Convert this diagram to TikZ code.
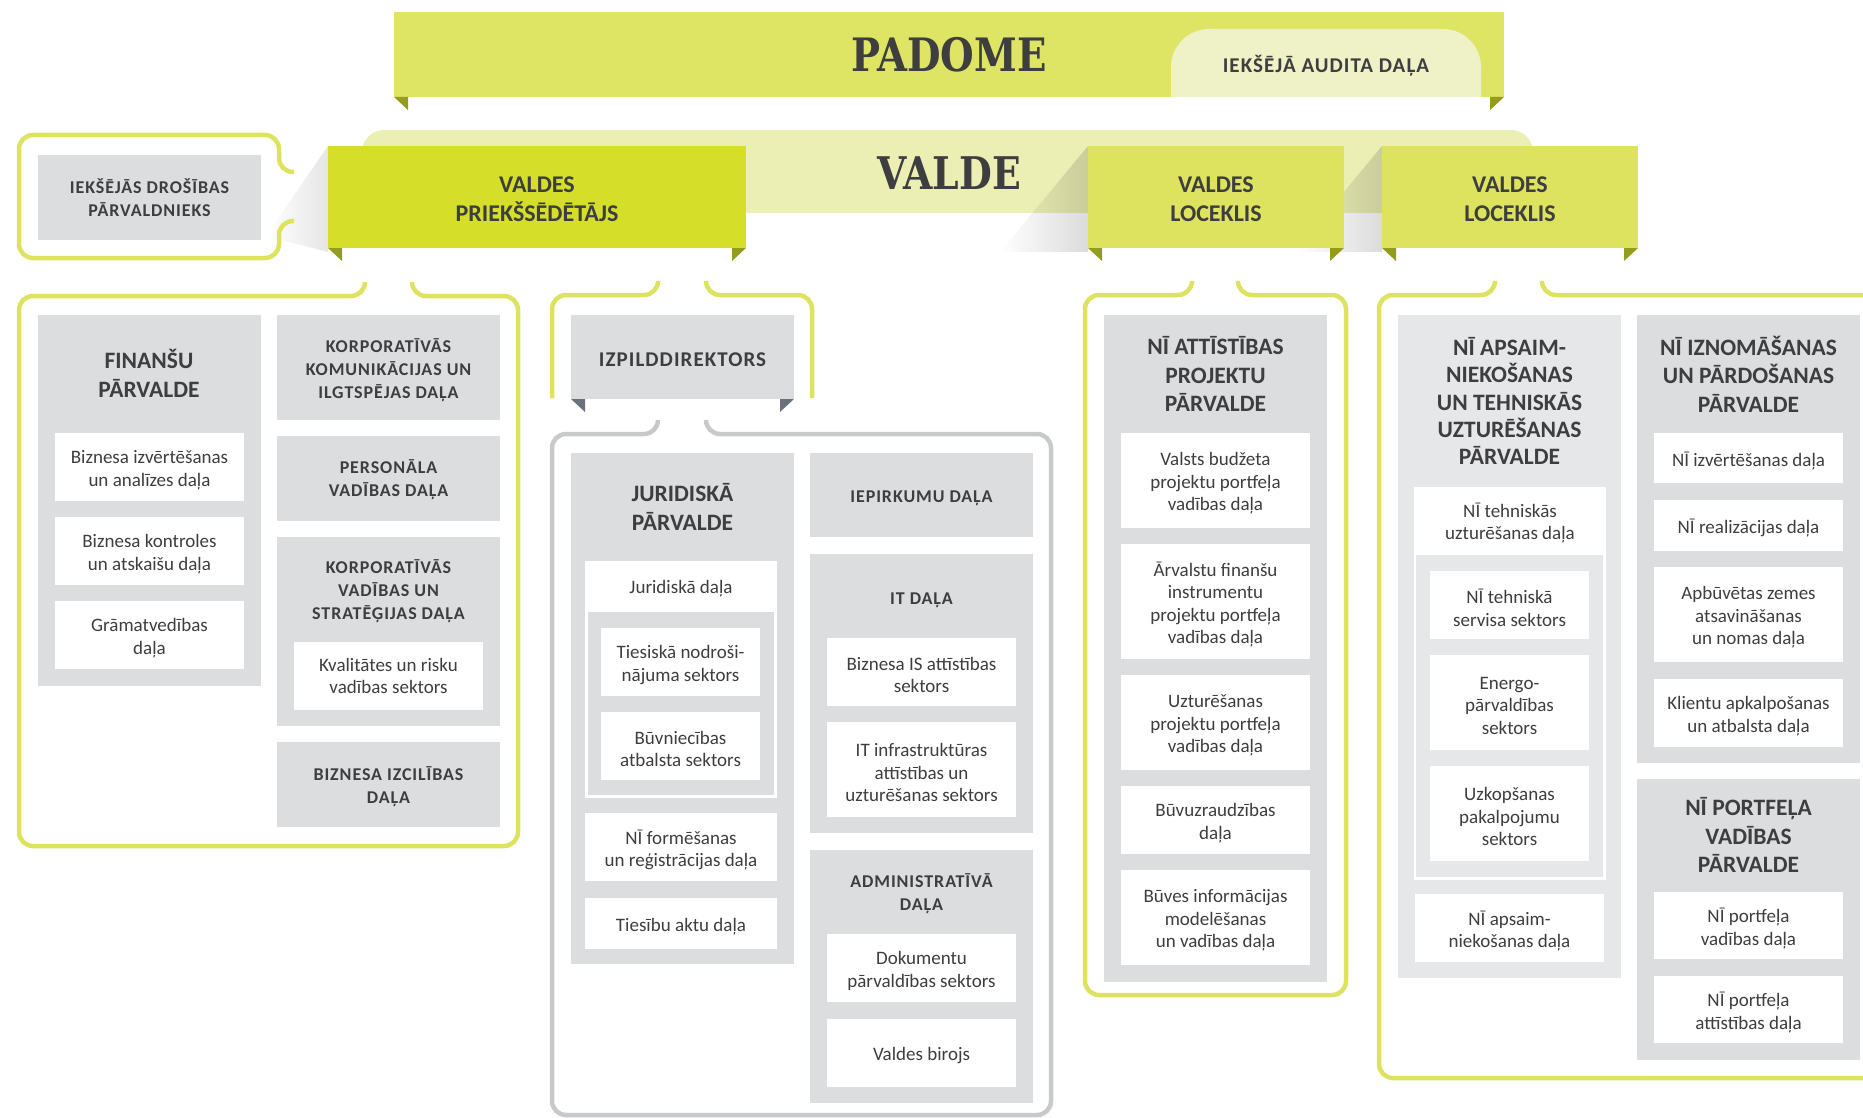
\documentclass[tikz,border=0pt]{standalone}
\usepackage{fontspec}
\usepackage{graphicx}
\setmainfont{Carlito}
\newfontfamily\spacedfont[LetterSpace=5]{Carlito}
\newfontfamily\slabfont{DejaVu Serif}
\usetikzlibrary{fadings}

\definecolor{txt}{HTML}{3E3E40}
\definecolor{padc}{HTML}{DEE463}
\definecolor{tabc}{HTML}{EEF2C6}
\definecolor{valc}{HTML}{EBEFB4}
\definecolor{chairc}{HTML}{D5DF2A}
\definecolor{lockc}{HTML}{DDE35F}
\definecolor{foldc}{HTML}{939C1C}
\definecolor{gry}{HTML}{DCDDDF}
\definecolor{gryb}{HTML}{E6E7E8}
\definecolor{frm}{HTML}{DEE35F}
\definecolor{frmg}{HTML}{C8C9CB}
\definecolor{foldg}{HTML}{6C707A}

\tikzfading[name=shfade, left color=transparent!100, right color=transparent!86]
\tikzfading[name=shfadeb, left color=transparent!100, right color=transparent!90]

\newcommand\fBody{\fontsize{19}{22.5}\selectfont}
\newcommand\fHead{\fontsize{23.5}{28.5}\selectfont\bfseries}
\newcommand\fHeadN{\fontsize{23.5}{27.3}\selectfont\bfseries}
\newcommand\fSmall{\spacedfont\fontsize{18}{23}\selectfont\bfseries}
\newcommand\fGreen{\fontsize{24}{29}\selectfont\bfseries}
\newcommand\fIzp{\spacedfont\fontsize{21}{25}\selectfont\bfseries}

\tikzset{
  box/.style={inner sep=0pt, outer sep=0pt, align=center, text=txt},
  whitebox/.style={box, fill=white, font=\fBody},
  graybox/.style={box, fill=gry, font=\fSmall},
  graybbox/.style={box, fill=gryb, font=\fSmall},
  greenbox/.style={box, fill=lockc, font=\fGreen},
  headtxt/.style={box, font=\fHead},
  smalltxt/.style={box, font=\fSmall},
  gframe/.style={draw=frm, line width=4.5pt, rounded corners=14pt},
  grframe/.style={draw=frmg, line width=4.5pt, rounded corners=14pt},
}

% text shift (down) of the text in a box
\def\BXshift{3pt}
% #1 style, #2 x1, #3 y1, #4 x2, #5 y2, #6 name, #7 text
\newcommand\BX[7]{%
  \node[#1, anchor=north west, minimum width={(#4-#2)*1pt}, minimum height={(#5-#3)*1pt}] (#6) at (#2,#3) {};
  \node[#1, fill=none] (#6-t) at ([yshift=-\BXshift]#6.center) {#7};}
\newcommand\foldL[3]{\fill[#3] (#1,#2) -- ++(14,0) -- ++(0,13) -- cycle;}
\newcommand\foldR[3]{\fill[#3] (#1,#2) -- ++(-14,0) -- ++(0,13) -- cycle;}

\begin{document}
\begin{tikzpicture}[x=1pt,y=-1pt]
\useasboundingbox (0,0) rectangle (1863,1118);

% ---------- PADOME ----------
\fill[padc] (394,12) rectangle (1504,97);
\foldL{394}{97}{foldc}
\foldR{1504}{97}{foldc}
\fill[tabc] (1171,97) -- (1171,67) arc[start angle=180,end angle=270,radius=38] -- (1443,29) arc[start angle=270,end angle=360,radius=38] -- (1481,97) -- cycle;
\node[box, font=\slabfont\bfseries\fontsize{46}{46}\selectfont] (padome) at (949,55) {\scalebox{0.84}[1]{PADOME}};
\node[box, font=\spacedfont\fontsize{21}{24}\selectfont\bfseries] (audit) at (1326,66) {IEKŠĒJĀ AUDITA DAĻA};

% ---------- VALDE ----------
\fill[valc] (362,213) -- (362,152) arc[start angle=180,end angle=270,radius=22] -- (1511,130) arc[start angle=270,end angle=360,radius=22] -- (1533,213) -- cycle;
\node[box, font=\slabfont\bfseries\fontsize{45}{45}\selectfont] (valde) at (949,173) {\scalebox{0.84}[1]{VALDE}};

% shadows
\fill[black, path fading=shfadeb] (328,146) -- (266,236) -- (328,252) -- cycle;
\fill[black, path fading=shfade] (1088,146) -- (1000,252) -- (1088,252) -- cycle;
\fill[black, path fading=shfade] (1382,146) -- (1294,252) -- (1382,252) -- cycle;

\def\BXshift{2.5pt}
\BX{greenbox, fill=chairc}{328}{146}{746}{248}{chair}{VALDES\\PRIEKŠSĒDĒTĀJS}
\foldL{328}{248}{foldc}
\foldR{746}{248}{foldc}
\BX{greenbox}{1088}{146}{1344}{248}{lock1}{VALDES\\LOCEKLIS}
\foldL{1088}{248}{foldc}
\foldR{1344}{248}{foldc}
\BX{greenbox}{1382}{146}{1638}{248}{lock2}{VALDES\\LOCEKLIS}
\foldL{1382}{248}{foldc}
\foldR{1638}{248}{foldc}

% ---------- Iekšējās drošības ----------
\draw[gframe] (294,172) -- (279,172) -- (279,135) -- (19,135) -- (19,258) -- (279,258) -- (279,221) -- (294,221);
\def\BXshift{0pt}
\BX{graybox}{38}{155}{261}{240}{drosiba}{IEKŠĒJĀS DROŠĪBAS\\PĀRVALDNIEKS}

% ---------- Frame A ----------
\draw[gframe] (365,282) -- (365,296) -- (19,296) -- (19,846) -- (518,846) -- (518,296) -- (412,296) -- (412,282);
\BX{graybox}{38}{315}{261}{686}{fin}{}
\node[headtxt] (fin-t) at (149,373.5) {FINANŠU\\PĀRVALDE};
\def\BXshift{3pt}
\BX{whitebox}{55}{433}{244}{501}{fin1}{Biznesa izvērtēšanas\\un analīzes daļa}
\BX{whitebox}{55}{517}{244}{585}{fin2}{Biznesa kontroles\\un atskaišu daļa}
\BX{whitebox}{55}{601}{244}{669}{fin3}{Grāmatvedības\\daļa}
\def\BXshift{3pt}
\BX{graybox}{277}{315}{500}{420}{kom}{KORPORATĪVĀS\\KOMUNIKĀCIJAS UN\\ILGTSPĒJAS DAĻA}
\def\BXshift{1.5pt}
\BX{graybox}{277}{436}{500}{521}{pers}{PERSONĀLA\\VADĪBAS DAĻA}
\BX{graybox}{277}{537}{500}{726}{kvs}{}
\node[smalltxt] (kvs-t) at (388.5,591) {KORPORATĪVĀS\\VADĪBAS UN\\STRATĒĢIJAS DAĻA};
\def\BXshift{0pt}
\BX{whitebox}{294}{642}{483}{710}{kvs1}{Kvalitātes un risku\\vadības sektors}
\def\BXshift{2.5pt}
\BX{graybox}{277}{742}{500}{827}{izc}{BIZNESA IZCILĪBAS\\DAĻA}

% ---------- Frame B : Izpilddirektors ----------
\draw[gframe] (658,282) -- (658,295) -- (552,295) -- (552,398);
\draw[gframe] (706,282) -- (706,295) -- (812,295) -- (812,398);
\BX{graybox, font=\fIzp}{571}{315}{794}{399}{izp}{IZPILDDIREKTORS}
\foldL{571}{399}{foldg}
\foldR{794}{399}{foldg}

% ---------- Frame C ----------
\draw[grframe] (658,420) -- (658,434) -- (552,434) -- (552,1115) -- (1051,1115) -- (1051,434) -- (706,434) -- (706,420);
\BX{graybox}{571}{453}{794}{964}{jur}{}
\node[headtxt] (jur-t) at (682.5,507) {JURIDISKĀ\\PĀRVALDE};
\BX{whitebox}{585}{561}{777}{798}{jurd}{}
\node[box, font=\fBody] (jurd-t) at (681,589) {Juridiskā daļa};
\BX{box, fill=gry}{588}{612}{774}{795}{jurin}{}
\def\BXshift{3pt}
\BX{whitebox}{601}{628}{760}{696}{tns}{Tiesiskā nodroši-\\nājuma sektors}
\BX{whitebox}{601}{712}{760}{780}{bas}{Būvniecības\\atbalsta sektors}
\BX{whitebox}{585}{813}{777}{881}{nif}{NĪ formēšanas\\un reģistrācijas daļa}
\BX{whitebox}{585}{898}{777}{949}{tad}{Tiesību aktu daļa}
\BX{graybox}{810}{453}{1033}{537}{iep}{IEPIRKUMU DAĻA}
\BX{graybox}{810}{554}{1033}{833}{it}{}
\node[smalltxt] (it-t) at (921.5,600.5) {IT DAĻA};
\BX{whitebox}{827}{638}{1016}{706}{it1}{Biznesa IS attīstības\\sektors}
\BX{whitebox}{827}{722}{1016}{817}{it2}{IT infrastruktūras\\attīstības un\\uzturēšanas sektors}
\BX{graybox}{810}{850}{1033}{1103}{adm}{}
\node[smalltxt] (adm-t) at (921.5,894) {ADMINISTRATĪVĀ\\DAĻA};
\BX{whitebox}{827}{934}{1016}{1002}{adm1}{Dokumentu\\pārvaldības sektors}
\BX{whitebox}{827}{1019}{1016}{1087}{adm2}{Valdes birojs}

% ---------- Frame D ----------
\draw[gframe] (1192,282) -- (1192,295) -- (1085,295) -- (1085,995) -- (1346,995) -- (1346,295) -- (1238,295) -- (1238,282);
\BX{graybox}{1104}{315}{1327}{982}{nia}{}
\node[headtxt] (nia-t) at (1215.5,374) {NĪ ATTĪSTĪBAS\\PROJEKTU\\PĀRVALDE};
\BX{whitebox}{1121}{433}{1310}{528}{nia1}{Valsts budžeta\\projektu portfeļa\\vadības daļa}
\BX{whitebox}{1121}{544}{1310}{659}{nia2}{Ārvalstu finanšu\\instrumentu\\projektu portfeļa\\vadības daļa}
\BX{whitebox}{1121}{675}{1310}{770}{nia3}{Uzturēšanas\\projektu portfeļa\\vadības daļa}
\BX{whitebox}{1121}{786}{1310}{854}{nia4}{Būvuzraudzības\\daļa}
\BX{whitebox}{1121}{870}{1310}{965}{nia5}{Būves informācijas\\modelēšanas\\un vadības daļa}

% ---------- Frame E ----------
\draw[gframe] (1495,282) -- (1495,295) -- (1379,295) -- (1379,1078) -- (1900,1078);
\draw[gframe] (1542,282) -- (1542,295) -- (1900,295);
\BX{graybbox}{1398}{315}{1621}{978}{nap}{}
\node[box, font=\fHeadN] (nap-t) at (1509.5,401) {NĪ APSAIM-\\NIEKOŠANAS\\UN TEHNISKĀS\\UZTURĒŠANAS\\PĀRVALDE};
\BX{whitebox}{1414}{487}{1606}{880}{ntu}{}
\node[box, font=\fBody] (ntu-t) at (1510,523) {NĪ tehniskās\\uzturēšanas daļa};
\BX{box, fill=gryb}{1416}{555}{1603}{877}{ntuin}{}
\BX{whitebox}{1430}{571}{1589}{639}{nts}{NĪ tehniskā\\servisa sektors}
\BX{whitebox}{1430}{655}{1589}{750}{eps}{Energo-\\pārvaldības\\sektors}
\BX{whitebox}{1430}{766}{1589}{861}{ups}{Uzkopšanas\\pakalpojumu\\sektors}
\BX{whitebox}{1415}{894}{1604}{962}{nad}{NĪ apsaim-\\niekošanas daļa}
\BX{graybox}{1637}{315}{1860}{763}{niz}{}
\node[headtxt] (niz-t) at (1748.5,374) {NĪ IZNOMĀŠANAS\\UN PĀRDOŠANAS\\PĀRVALDE};
\BX{whitebox}{1654}{433}{1843}{483}{niz1}{NĪ izvērtēšanas daļa}
\BX{whitebox}{1654}{500}{1843}{551}{niz2}{NĪ realizācijas daļa}
\BX{whitebox}{1654}{567}{1843}{662}{niz3}{Apbūvētas zemes\\atsavināšanas\\un nomas daļa}
\BX{whitebox}{1654}{679}{1843}{747}{niz4}{Klientu apkalpošanas\\un atbalsta daļa}
\BX{graybox}{1637}{779}{1860}{1060}{npv}{}
\node[headtxt] (npv-t) at (1748.5,835) {NĪ PORTFEĻA\\VADĪBAS\\PĀRVALDE};
\BX{whitebox}{1654}{892}{1843}{959}{npv1}{NĪ portfeļa\\vadības daļa}
\BX{whitebox}{1654}{976}{1843}{1043}{npv2}{NĪ portfeļa\\attīstības daļa}

\end{tikzpicture}
\end{document}
